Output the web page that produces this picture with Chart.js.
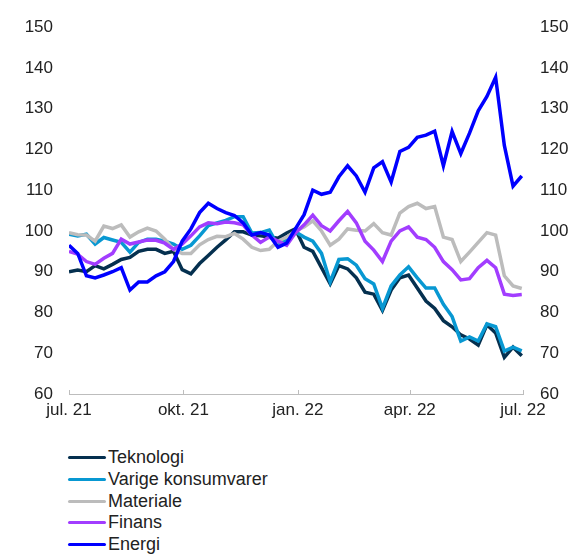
<!DOCTYPE html>
<html>
<head>
<meta charset="utf-8">
<script src="https://cdn.jsdelivr.net/npm/chart.js@4.4.1/dist/chart.umd.min.js"></script>
<style>
  html, body { margin: 0; padding: 0; background: #fff; }
  #wrap { position: relative; width: 574px; height: 554px; }
  #chartBox { position: absolute; left: 0; top: 0; width: 574px; height: 430px; }
  #legend { position: absolute; left: 68px; top: 447px; font-family: "Liberation Sans", Arial, sans-serif; font-size: 18px; color: #222; }
  .item { display: flex; align-items: center; height: 21.7px; }
  .swatch { width: 38px; height: 3px; border-radius: 2px; margin-right: 2px; }
</style>
</head>
<body>
<div id="wrap">
  <div id="chartBox"><canvas id="sectorChart"></canvas></div>
  <div id="legend"></div>
</div>
<script>
// weekly observations, index = 100
const dates = [
  '2021-07-01', '2021-07-08', '2021-07-15', '2021-07-22', '2021-07-29', '2021-08-05', '2021-08-12',
  '2021-08-19', '2021-08-26', '2021-09-02', '2021-09-09', '2021-09-16', '2021-09-23', '2021-09-30',
  '2021-10-07', '2021-10-14', '2021-10-21', '2021-10-28', '2021-11-04', '2021-11-11', '2021-11-18',
  '2021-11-25', '2021-12-02', '2021-12-09', '2021-12-16', '2021-12-23', '2021-12-30', '2022-01-06',
  '2022-01-13', '2022-01-20', '2022-01-27', '2022-02-03', '2022-02-10', '2022-02-17', '2022-02-24',
  '2022-03-03', '2022-03-10', '2022-03-17', '2022-03-24', '2022-03-31', '2022-04-07', '2022-04-14',
  '2022-04-21', '2022-04-28', '2022-05-05', '2022-05-12', '2022-05-19', '2022-05-26', '2022-06-02',
  '2022-06-09', '2022-06-16', '2022-06-23', '2022-06-30'
];

const teknologi = [
  90, 90.4, 90, 91.5, 90.7, 91.8, 93, 93.5, 95, 95.5, 95.5, 94.5, 95, 90.5,
  89.5, 92, 94, 96, 97.8, 99.8, 99.8, 99, 98.8, 98.5, 98.2, 99.5, 100.5, 96,
  95, 91, 87, 91.5, 90.7, 88.5, 85, 84.5, 80.5, 85.5, 88.5, 89.2, 86, 82.8,
  81, 78, 76.5, 74.5, 73.5, 72, 77, 75, 69, 71.5, 69.4
];
const varige = [
  99.2, 98.8, 99.2, 96.8, 98.4, 97.8, 97.2, 94.8, 97.2, 98, 98, 97.5, 96.8, 95.5,
  96.5, 98.8, 101.3, 102, 102.6, 103.5, 103.5, 99.5, 99.6, 100.2, 96.4, 98, 99.8, 98.5,
  97.5, 94.5, 87.5, 93, 93.2, 91.6, 88.3, 87, 81, 86.5, 89.2, 91.2, 88.5, 86,
  86, 82, 79, 73, 74, 73, 77.2, 76.5, 70.5, 71.5, 70.6
];
const materiale = [
  99.6, 99.1, 99, 97.5, 101.2, 100.6, 101.5, 98.5, 99.8, 100.7, 100, 98, 95.5, 94.5,
  94.5, 96.6, 97.9, 98.7, 98.6, 99.4, 98, 96, 95.2, 95.5, 97.5, 98.5, 100, 101,
  102.5, 100, 96.5, 98, 100.5, 100.2, 100, 101.8, 99.6, 99, 104.4, 106, 106.8, 105.5,
  106, 98.5, 97.9, 92.5, 94.8, 97.2, 99.6, 99, 89, 86.5, 85.9
];
const finans = [
  95, 94.3, 92.5, 91.8, 93.3, 94.5, 98, 96.8, 97.3, 97.8, 97.7, 97, 95.5, 96.8,
  98.8, 101, 102, 101.8, 102.2, 102, 101.5, 99, 97.2, 98.5, 97.5, 96.5, 99.5, 101.5,
  103.9, 101.3, 100, 102.5, 104.8, 102, 97.5, 95.3, 92.5, 97.5, 100, 101, 98.5, 97.9,
  96, 92.5, 90.5, 88, 88.3, 91, 92.8, 91, 84.5, 84.2, 84.4
];
const energi = [
  96.5, 94.5, 89, 88.5, 89.2, 90, 91, 85.5, 87.5, 87.5, 89, 90, 92.5, 97.5,
  100.5, 104.5, 106.8, 105.5, 104.5, 103.8, 102, 99, 99.6, 99, 96, 97, 100.5, 104,
  110, 109, 109.5, 113.3, 116, 113.5, 109.5, 115.5, 117, 112, 119.5, 120.5, 123, 123.5,
  124.5, 116, 124.4, 119, 124, 129.5, 133, 137.7, 121, 111, 113.5
];

const tickDates = ['2021-07-01', '2021-10-01', '2022-01-01', '2022-04-01', '2022-07-01'];
const tickLabels = ['jul. 21', 'okt. 21', 'jan. 22', 'apr. 22', 'jul. 22'];
const yTicks = [60, 70, 80, 90, 100, 110, 120, 130, 140, 150];

const seriesNames = ['Teknologi', 'Varige konsumvarer', 'Materiale', 'Finans', 'Energi'];
const seriesColors = ['#05304f', '#0898d2', '#bcbcbc', '#a23dff', '#0000ff'];
const seriesData = [teknologi, varige, materiale, finans, energi];

const dayMs = 24 * 3600 * 1000;
const t0 = Date.parse(dates[0]);
const toDay = d => Math.round((Date.parse(d) - t0) / dayMs);
const tickDays = tickDates.map(toDay);

const datasets = seriesNames.map((name, i) => ({
  label: name,
  data: seriesData[i].map((v, j) => ({ x: toDay(dates[j]), y: v })),
  borderColor: seriesColors[i],
  backgroundColor: seriesColors[i],
  borderWidth: 3.5,
  pointRadius: 0,
  tension: 0,
  order: seriesNames.length - i
}));

// small tick marks pointing up from the x axis line
const axisTicks = {
  id: 'axisTicks',
  afterDraw(chart) {
    const x = chart.scales.x;
    const c = chart.ctx;
    c.save();
    c.strokeStyle = '#bdbdbd';
    c.lineWidth = 1;
    tickDays.forEach(d => {
      const px = Math.round(x.getPixelForValue(d)) + 0.5;
      c.beginPath();
      c.moveTo(px, x.top);
      c.lineTo(px, x.top - 4);
      c.stroke();
    });
    c.restore();
  }
};

const tickFont = { family: '"Liberation Sans", Arial, sans-serif', size: 17 };
const yAxis = (pos, pad, w) => ({
  position: pos,
  min: 60,
  max: 150,
  afterBuildTicks: s => { s.ticks = yTicks.map(v => ({ value: v })); },
  afterFit: s => { s.width = w; },
  grid: { display: false, drawTicks: false },
  border: { display: false },
  ticks: { color: '#222', font: tickFont, padding: pad }
});

const ctx = document.getElementById('sectorChart').getContext('2d');
new Chart(ctx, {
  type: 'line',
  data: { datasets },
  options: {
    responsive: true,
    maintainAspectRatio: false,
    animation: false,
    layout: { padding: { top: 20, left: 0, right: 0, bottom: 0 } },
    plugins: { legend: { display: false }, tooltip: { enabled: false } },
    scales: {
      x: {
        type: 'linear',
        min: 0,
        max: tickDays[tickDays.length - 1],
        afterBuildTicks: s => { s.ticks = tickDays.map(v => ({ value: v })); },
        afterFit: s => { s.height = 36; },
        grid: { display: false, drawTicks: false },
        border: { display: true, color: '#bdbdbd', width: 1 },
        ticks: {
          color: '#222',
          font: tickFont,
          padding: 6,
          maxRotation: 0,
          callback: v => tickLabels[tickDays.indexOf(v)]
        }
      },
      y: yAxis('left', 16, 69),
      y2: yAxis('right', 17, 51)
    }
  },
  plugins: [axisTicks]
});

// legend, one entry per line
const legend = document.getElementById('legend');
seriesNames.forEach((name, i) => {
  const row = document.createElement('div');
  row.className = 'item';
  const sw = document.createElement('span');
  sw.className = 'swatch';
  sw.style.background = seriesColors[i];
  const txt = document.createElement('span');
  txt.textContent = name;
  row.appendChild(sw);
  row.appendChild(txt);
  legend.appendChild(row);
});
</script>
</body>
</html>
